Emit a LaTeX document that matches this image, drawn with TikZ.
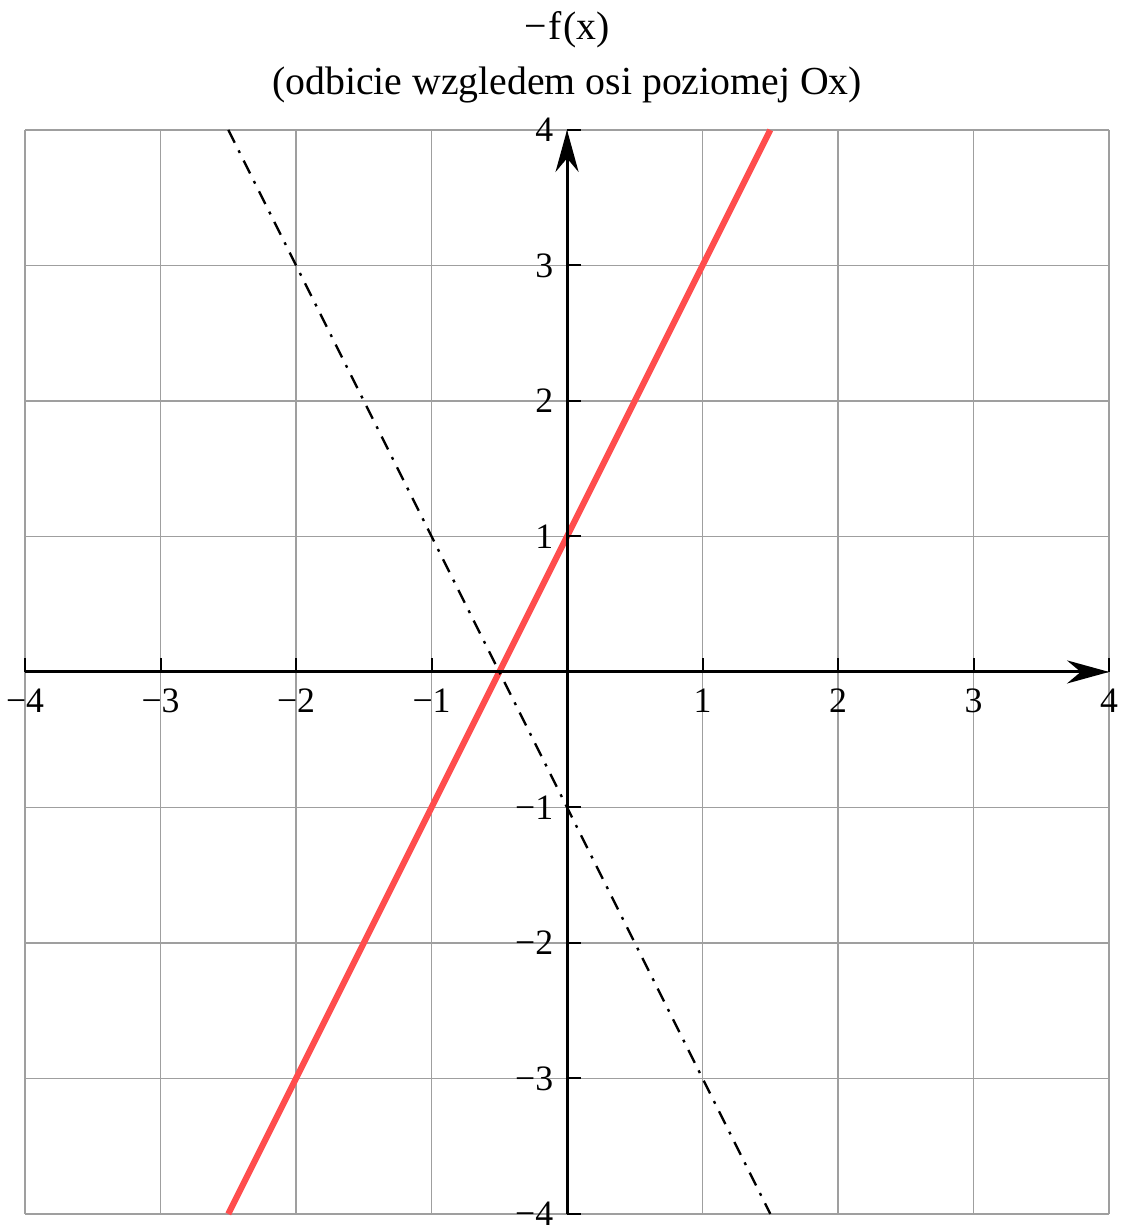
\documentclass[tikz,border=0pt]{standalone}
\usepackage{fontspec}
\setmainfont{Liberation Serif}
\usetikzlibrary{arrows.meta}
\definecolor{plotred}{RGB}{255,77,77}

\begin{document}
\begin{tikzpicture}[>=Stealth, font=\fontsize{7.5}{9}\selectfont,
  gridline/.style={gray!75, line width=0.3pt},
  axisline/.style={->, line width=0.65pt, >={Stealth[length=3.1mm, width=1.7mm]}},
  redline/.style={plotred, line width=1.3pt},
  dashdotline/.style={line width=0.5pt, dash pattern=on 3pt off 1.8pt on 0.6pt off 1.8pt},
  titletext/.style={font=\fontsize{8.35}{10}\selectfont}]
  \useasboundingbox (-4.185,-4.089) rectangle (4.081,4.959);
  % grid and plots
  \draw[gridline] (-4,-4) grid (4,4);
  \draw[redline] (-2.5,-4) -- (1.5,4);
  \draw[dashdotline] (-2.5,4) -- (1.5,-4);
  % axes
  \draw[axisline] (-4,0) -- (4,0);
  \draw[axisline] (0,-4) -- (0,4);
  \foreach \t/\lab in {-4/−4, -3/−3, -2/−2, -1/−1, 1/1, 2/2, 3/3, 4/4} {
    \draw[line width=0.4pt] (\t,0) -- (\t,0.1);
    \draw[line width=0.4pt] (0,\t) -- (0.1,\t);
    \node[anchor=north, inner sep=1pt] (xl\t) at (\t,-0.08) {\lab};
    \node[anchor=east, inner sep=1pt] (yl\t) at (-0.06,\t) {\lab};
  }
  % title
  \node[titletext] (title) at (0,4.738) {−\kern0.4pt f\kern0.4pt(x)};
  \node[titletext] (subtitle) at (0,4.332) {(odbicie wzgledem osi poziomej Ox)};
\end{tikzpicture}
\end{document}
